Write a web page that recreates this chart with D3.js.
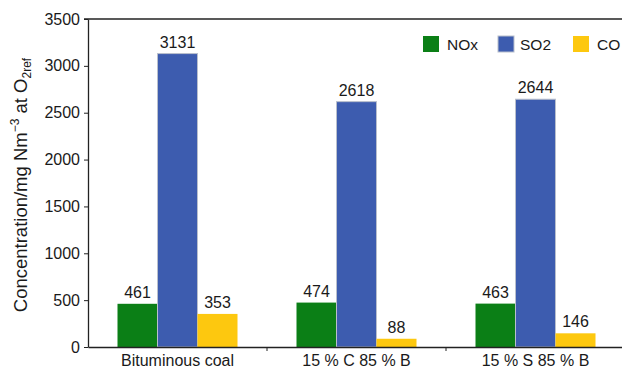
<!DOCTYPE html>
<html>
<head>
<meta charset="utf-8">
<script src="https://cdn.jsdelivr.net/npm/d3@7"></script>
<style>
  html, body { margin: 0; padding: 0; background: #fff; }
  svg { display: block; font-family: "Liberation Sans", Arial, sans-serif; }
</style>
</head>
<body>
<svg id="chart" width="622" height="372"></svg>
<script>
// Emission concentrations by fuel blend
const categories = ["Bituminous coal", "15 % C 85 % B", "15 % S 85 % B"];
const seriesNames = ["NOx", "SO2", "CO"];
const noxValues = [461, 474, 463];
const so2Values = [3131, 2618, 2644];
const coValues = [353, 88, 146];
const yTicks = [0, 500, 1000, 1500, 2000, 2500, 3000, 3500];
const colors = ["#0b7f16", "#3d5caf", "#fdc80f"];

const series = [noxValues, so2Values, coValues];
const FONT = "Liberation Sans, Arial, sans-serif";
const INK = "#1a1a1a";

const svg = d3.select("#chart");
const plotLeft = 88, plotRight = 625, plotTop = 19, plotBottom = 347;

const x = d3.scaleBand().domain(categories).range([plotLeft, plotRight]);
// group of three bars, ~120px wide, centred in each band
const inner = d3.scaleBand().domain(seriesNames).range([29.5, x.bandwidth() - 29.5]);
const y = d3.scaleLinear().domain([0, 3500]).range([plotBottom, plotTop]);

// top frame line
svg.append("line").attr("x1", plotLeft - 4).attr("x2", 622).attr("y1", plotTop).attr("y2", plotTop)
  .attr("stroke", "#222").attr("stroke-width", 1.3);

// bars and value labels
const groups = svg.append("g").selectAll("g").data(categories).join("g")
  .attr("transform", d => `translate(${x(d)},0)`);

seriesNames.forEach((s, si) => {
  groups.append("rect")
    .attr("x", inner(s))
    .attr("width", inner.bandwidth())
    .attr("y", (d, i) => y(series[si][i]))
    .attr("height", (d, i) => y(0) - y(series[si][i]))
    .attr("fill", colors[si])
    .attr("stroke", si === 1 ? "#b9bfcc" : "none")
    .attr("stroke-width", 1);
  groups.append("text")
    .attr("x", inner(s) + inner.bandwidth() / 2)
    .attr("y", (d, i) => y(series[si][i]) - 6)
    .attr("text-anchor", "middle")
    .attr("font-size", 16)
    .attr("fill", INK)
    .text((d, i) => series[si][i]);
});

// y axis
const yAxis = svg.append("g").attr("transform", `translate(${plotLeft},0)`)
  .call(d3.axisLeft(y).tickValues(yTicks).tickSize(4).tickSizeOuter(0).tickFormat(d3.format("d")));
yAxis.select(".domain").attr("stroke", "#222").attr("stroke-width", 1.3);
yAxis.selectAll(".tick line").attr("stroke", "#222");
yAxis.selectAll("text").attr("font-size", 16).attr("fill", INK).attr("x", -8)
  .attr("font-family", FONT);

// x axis
const xAxis = svg.append("g").attr("transform", `translate(0,${plotBottom})`)
  .call(d3.axisBottom(x).tickSize(0).tickSizeOuter(0));
xAxis.select(".domain").attr("stroke", "#222").attr("stroke-width", 1.3);
xAxis.selectAll("text").attr("font-size", 16).attr("fill", INK).attr("y", 19).attr("dy", 0)
  .attr("font-family", FONT);
// separators between categories
svg.append("g").selectAll("line").data(categories.slice(1)).join("line")
  .attr("x1", d => x(d)).attr("x2", d => x(d))
  .attr("y1", plotBottom).attr("y2", plotBottom + 4)
  .attr("stroke", "#222");

// y axis title
const yt = svg.append("text")
  .attr("transform", "translate(27,185) rotate(-90)")
  .attr("text-anchor", "middle")
  .attr("font-size", 18.5)
  .attr("fill", INK);
yt.append("tspan").text("Concentration/mg Nm");
yt.append("tspan").attr("dy", -8).attr("font-size", 12).text("\u22123");
yt.append("tspan").attr("dy", 8).text(" at O");
yt.append("tspan").attr("dy", 4).attr("font-size", 12).text("2ref");

// legend
const legendX = [423, 498, 573];
const legend = svg.append("g").selectAll("g").data(seriesNames).join("g")
  .attr("transform", (d, i) => `translate(${legendX[i]},36)`);
legend.append("rect").attr("width", 16).attr("height", 16)
  .attr("fill", (d, i) => colors[i])
  .attr("stroke", (d, i) => i === 1 ? "#b9bfcc" : "none");
legend.append("text").attr("x", (d, i) => i === 1 ? 22 : 24).attr("y", 14)
  .attr("font-size", 15.5).attr("fill", INK).text(d => d);
</script>
</body>
</html>
